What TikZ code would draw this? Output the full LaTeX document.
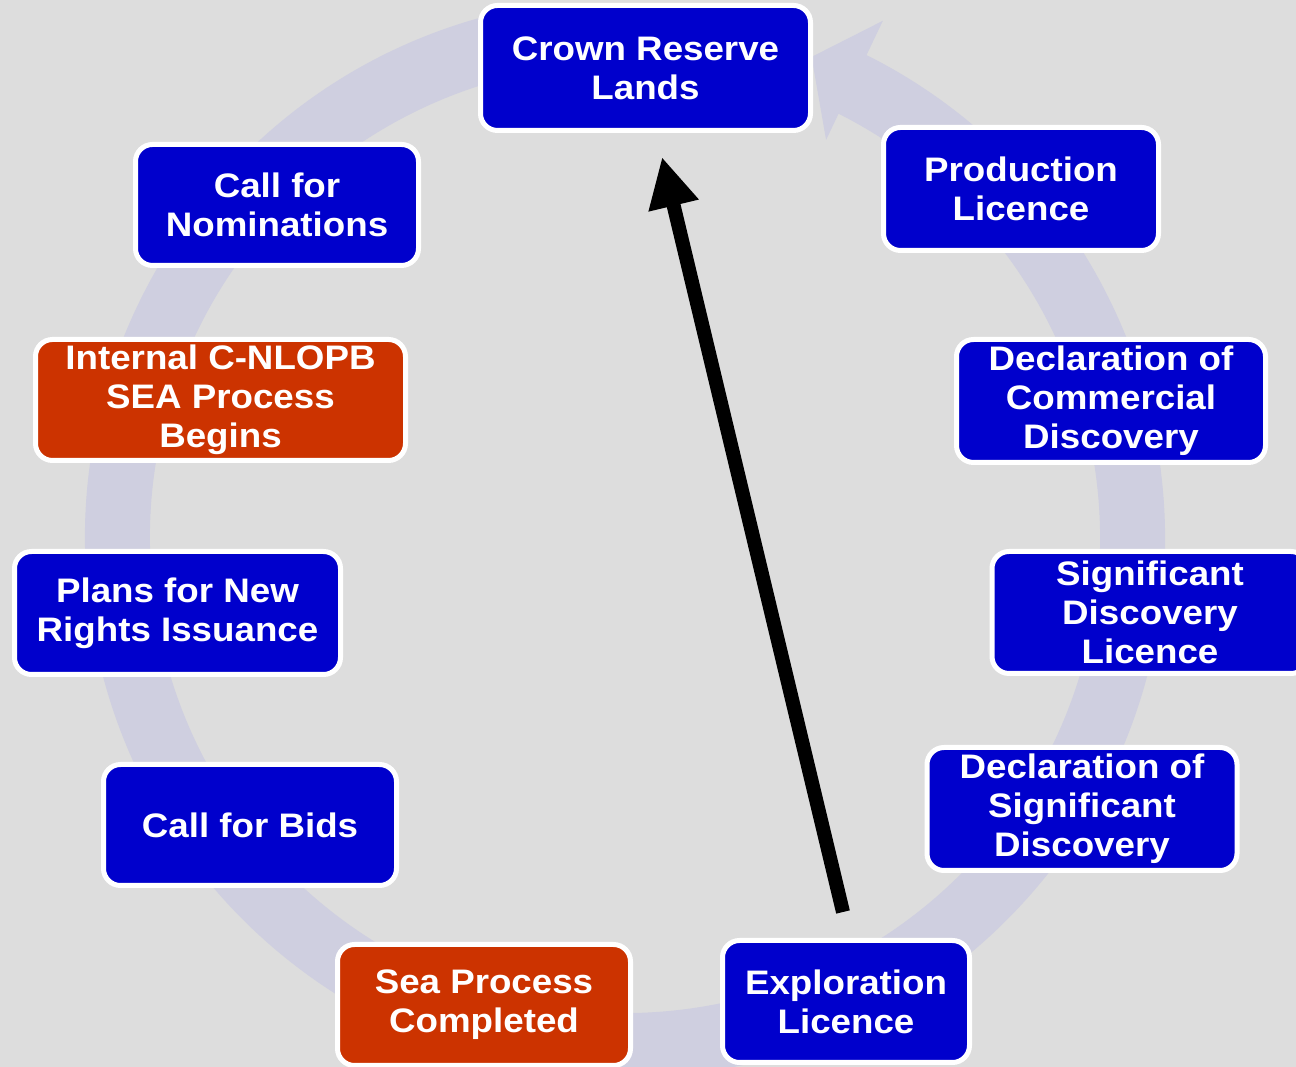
\documentclass[tikz,border=0pt]{standalone}
\usepackage{fontspec}
\usetikzlibrary{arrows.meta}
\newfontfamily\boxfont{Liberation Sans}[FakeStretch=1.08]
\definecolor{bgc}{HTML}{DDDDDD}
\definecolor{ringc}{HTML}{CFCFE0}
\definecolor{boxblue}{HTML}{0000CC}
\definecolor{boxred}{HTML}{CC3300}
\tikzset{
  stagebox/.style={rectangle, rounded corners=17pt, draw=white, line width=5pt,
    fill=boxblue, text=white, align=center, inner sep=0pt,
    font={\boxfont\bfseries\fontsize{34}{39}\selectfont}},
  seabox/.style={stagebox, fill=boxred},
  ringline/.style={draw=ringc, line width=65pt},
  bigarrow/.style={draw=black, line width=14pt, -{Triangle[length=50pt,width=48pt]}}
}
\begin{document}
\begin{tikzpicture}[x=1pt,y=1pt]
\useasboundingbox (0,0) rectangle (1296,1067);
\clip (0,0) rectangle (1296,1067);
\fill[bgc] (0,0) rectangle (1296,1067);
% cycle ring
\begin{scope}[shift={(625,529)}]
  \draw[ringline] (100:507.5) arc[start angle=100, end angle=423.8, radius=507.5];
  \fill[ringc] (423.5:578) -- (428.8:516) -- (423.2:446) -- cycle;
\end{scope}
% black arrow
\coordinate (astart) at (843,155);
\coordinate (aend) at (662,910);
\draw[bigarrow] (astart) -- (aend);
% stages
\node[stagebox, minimum width=330pt, minimum height=125pt] (crown) at (645.5,999) {Crown Reserve\\Lands};
\node[stagebox, minimum width=283pt, minimum height=121pt] (nom) at (277,862) {Call for\\Nominations};
\node[stagebox, minimum width=275pt, minimum height=123pt] (prod) at (1021,878) {Production\\Licence};
\node[seabox, minimum width=370pt, minimum height=121pt] (intl) at (220.5,667) {Internal C-NLOPB\\SEA Process\\Begins};
\node[stagebox, minimum width=309pt, minimum height=123pt] (dcd) at (1111,666) {Declaration of\\Commercial\\Discovery};
\node[stagebox, minimum width=326pt, minimum height=123pt] (plans) at (177.5,454) {Plans for New\\Rights Issuance};
\node[stagebox, minimum width=316pt, minimum height=122pt] (sdl) at (1150,454.5) {Significant\\Discovery\\Licence};
\node[stagebox, minimum width=293pt, minimum height=121pt] (bids) at (250,242) {Call for Bids};
\node[stagebox, minimum width=310pt, minimum height=123pt] (dsd) at (1082,258) {Declaration of\\Significant\\Discovery};
\node[seabox, minimum width=293pt, minimum height=121pt] (sea) at (484,62) {Sea Process\\Completed};
\node[stagebox, minimum width=247pt, minimum height=122pt] (expl) at (846,65.5) {Exploration\\Licence};
\end{tikzpicture}
\end{document}
